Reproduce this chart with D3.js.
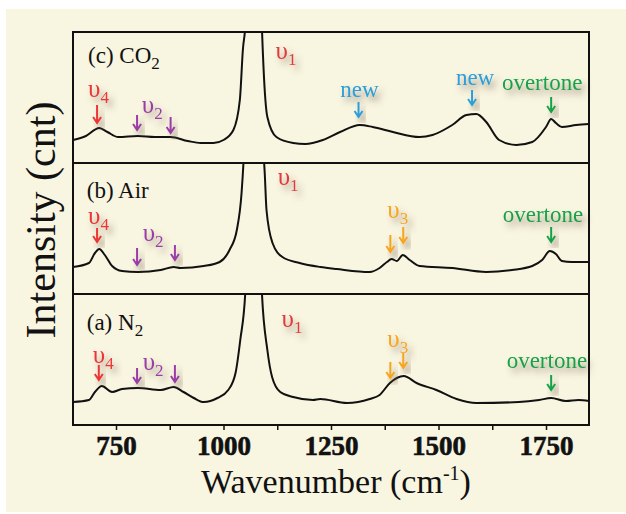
<!DOCTYPE html>
<html>
<head>
<meta charset="utf-8">
<script src="https://cdn.jsdelivr.net/npm/d3@7"></script>
<style>
  body { margin: 0; background: #fff; }
  svg { display: block; font-family: "Liberation Serif", "Times New Roman", serif; }
</style>
</head>
<body>
<svg id="chart" width="626" height="514"></svg>
<script>
// x ticks (wavenumber, cm-1)
const majorTicks = [750, 1000, 1250, 1500, 1750];
const minorTicks = [875, 1125, 1375, 1625];

// (c) CO2 spectrum
const wnCO2 = [650, 680, 711, 730, 755, 801, 840, 877, 917, 947, 977, 1000, 1023, 1038, 1045, 1052, 1062, 1070, 1080, 1089, 1093, 1102, 1123, 1162, 1190, 1231, 1271, 1317, 1347, 1394, 1456, 1486, 1532, 1565, 1588, 1611, 1641, 1681, 1718, 1750, 1762, 1773, 1787, 1820, 1850];
const intCO2 = [23, 27, 35, 31, 26, 27, 26, 26, 22, 20, 20, 23, 33, 63, 113, 145, 320, 600, 320, 140, 96, 46, 26, 20, 19, 23, 31, 38, 36, 31, 26, 28, 38, 48, 49, 41, 23, 18, 21, 36, 44, 40, 36, 38, 39];

// (b) Air spectrum
const wnAir = [650, 687, 701, 711, 724, 741, 764, 801, 854, 884, 900, 954, 991, 1014, 1031, 1042, 1048, 1060, 1070, 1080, 1092, 1096, 1100, 1114, 1137, 1177, 1225, 1263, 1340, 1363, 1380, 1391, 1403, 1417, 1433, 1456, 1532, 1611, 1671, 1718, 1741, 1759, 1773, 1787, 1810, 1850];
const intAir = [27, 31, 41, 45, 39, 28, 23, 22, 24, 27, 26, 28, 32, 44, 64, 101, 145, 320, 600, 320, 150, 120, 84, 51, 37, 31, 27, 25, 22, 26, 32, 35, 33, 39, 34, 28, 26, 22, 24, 28, 34, 43, 40, 33, 32, 32];

// (a) N2 spectrum
const wnN2 = [650, 687, 701, 717, 741, 764, 801, 854, 884, 907, 931, 954, 986, 1011, 1028, 1039, 1051, 1060, 1070, 1080, 1089, 1102, 1113, 1132, 1162, 1208, 1225, 1287, 1340, 1363, 1387, 1419, 1449, 1495, 1542, 1588, 1687, 1734, 1762, 1796, 1826, 1850];
const intN2 = [23, 25, 33, 39, 33, 36, 37, 35, 38, 33, 27, 23, 27, 35, 52, 85, 135, 320, 600, 320, 135, 75, 48, 33, 28, 25, 26, 22, 26, 30, 42, 49, 42, 35, 26, 22, 23, 25, 27, 24, 25, 24];

// labels: [text, subscript, wavenumber, intensity, colour key, anchor]
const annCO2 = [["(c) CO", "2", 685, 100, "k", "start"], ["υ", "1", 1121, 104, "v1", "start"], ["υ", "4", 685, 66, "v4", "start"], ["υ", "2", 810, 50, "v2", "start"], ["new", "", 1316, 66, "new", "middle"], ["new", "", 1585, 78, "new", "middle"], ["overtone", "", 1741, 73, "ot", "middle"]];
const annAir = [["(b) Air", "", 682, 96, "k", "start"], ["υ", "1", 1126, 109, "v1", "start"], ["υ", "4", 685, 70, "v4", "start"], ["υ", "2", 812, 53, "v2", "start"], ["υ", "3", 1381, 76, "v3", "start"], ["overtone", "", 1743, 72, "ot", "middle"]];
const annN2 = [["(a) N", "2", 682, 95, "k", "start"], ["υ", "1", 1135, 98, "v1", "start"], ["υ", "4", 696, 62, "v4", "start"], ["υ", "2", 812, 55, "v2", "start"], ["υ", "3", 1381, 78, "v3", "start"], ["overtone", "", 1752, 57, "ot", "middle"]];

// arrows: [wavenumber, from intensity, to intensity, colour key]
const arrCO2 = [[706, 58, 40, "v4"], [799, 48, 33, "v2"], [877, 46, 30, "v2"], [1314, 61, 46, "new"], [1578, 73, 58, "new"], [1762, 66, 51, "ot"]];
const arrAir = [[706, 66, 52, "v4"], [799, 46, 29, "v2"], [887, 49, 34, "v2"], [1388, 59, 42, "v3"], [1418, 67, 51, "v3"], [1762, 67, 52, "ot"]];
const arrN2 = [[710, 60, 45, "v4"], [799, 57, 42, "v2"], [887, 60, 43, "v2"], [1388, 63, 47, "v3"], [1418, 72, 57, "v3"], [1762, 50, 35, "ot"]];

const colours = { k: "#111", v1: "#e03a3c", v4: "#ee3535", v2: "#9a3ea6", v3: "#f7a51e", new: "#2b9fd9", ot: "#14a24a" };

const svg = d3.select("#chart");
const plotLeft = 73, plotRight = 589, plotTop = 32, plotBottom = 425;
const panelH = (plotBottom - plotTop) / 3;

svg.append("rect").attr("x", 6).attr("y", 9).attr("width", 620).attr("height", 503).attr("fill", "#f8f5e1");

let defs = svg.append("defs");
let f = defs.append("filter").attr("id", "shadow").attr("x", "-40%").attr("y", "-40%").attr("width", "180%").attr("height", "180%");
f.append("feGaussianBlur").attr("in", "SourceAlpha").attr("stdDeviation", 3).attr("result", "blur");
f.append("feOffset").attr("in", "blur").attr("dx", 4).attr("dy", 5).attr("result", "off");
f.append("feFlood").attr("flood-color", "#6e5a45").attr("flood-opacity", 0.6);
f.append("feComposite").attr("in2", "off").attr("operator", "in").attr("result", "sh");
let m = f.append("feMerge");
m.append("feMergeNode").attr("in", "sh");
m.append("feMergeNode").attr("in", "SourceGraphic");

let x = d3.scaleLinear().domain([650, 1850]).range([plotLeft, plotRight]);

let panels = [
  { id: "co2", wn: wnCO2, val: intCO2, ann: annCO2, arr: arrCO2 },
  { id: "air", wn: wnAir, val: intAir, ann: annAir, arr: arrAir },
  { id: "n2", wn: wnN2, val: intN2, ann: annN2, arr: arrN2 }
];

panels.forEach(function(p, i) {
  let y0 = plotTop + i * panelH;
  let y = d3.scaleLinear().domain([0, 131]).range([y0 + panelH, y0]);

  defs.append("clipPath").attr("id", "clip-" + p.id)
    .append("rect").attr("x", plotLeft).attr("y", y0).attr("width", plotRight - plotLeft).attr("height", panelH);

  let line = d3.line()
    .x((d, k) => x(p.wn[k]))
    .y(d => y(d))
    .curve(d3.curveMonotoneX);

  svg.append("path")
    .attr("clip-path", "url(#clip-" + p.id + ")")
    .attr("d", line(p.val))
    .attr("fill", "none")
    .attr("stroke", "#111")
    .attr("stroke-width", 2)
    .attr("stroke-linejoin", "round");

  let g = svg.append("g");

  p.ann.forEach(function(a) {
    let isTag = a[4] === "k";
    let t = g.append("text")
      .attr("x", x(a[2]))
      .attr("y", y(a[3]))
      .attr("text-anchor", a[5])
      .attr("fill", colours[a[4]])
      .attr("filter", isTag ? null : "url(#shadow)")
      .style("font-size", a[0] === "υ" ? "25px" : "23px");
    t.append("tspan").text(a[0]);
    if (a[1]) {
      t.append("tspan").attr("dy", 6).style("font-size", "17px").text(a[1]);
    }
  });

  p.arr.forEach(function(a) {
    let ax = x(a[0]), ya = y(a[1]), yb = y(a[2]);
    g.append("path")
      .attr("d", `M${ax},${ya}L${ax},${yb}M${ax - 4},${yb - 6}L${ax},${yb}L${ax + 4},${yb - 6}`)
      .attr("fill", "none")
      .attr("stroke", colours[a[3]])
      .attr("stroke-width", 2)
      .attr("filter", "url(#shadow)");
  });
});

// frame and panel dividers
svg.append("rect").attr("x", plotLeft).attr("y", plotTop).attr("width", plotRight - plotLeft).attr("height", plotBottom - plotTop)
  .attr("fill", "none").attr("stroke", "#111").attr("stroke-width", 2);
[1, 2].forEach(k => {
  svg.append("line").attr("x1", plotLeft).attr("x2", plotRight)
    .attr("y1", plotTop + k * panelH).attr("y2", plotTop + k * panelH)
    .attr("stroke", "#111").attr("stroke-width", 2);
});

// x axis
let xAxis = svg.append("g").attr("transform", `translate(0,${plotBottom})`)
  .attr("font-family", "'Liberation Serif', 'Times New Roman', serif")
  .call(d3.axisBottom(x).tickValues(majorTicks).tickSize(5).tickPadding(6).tickFormat(d3.format("d")));
xAxis.attr("font-family", "'Liberation Serif', 'Times New Roman', serif").attr("font-size", 27).attr("font-weight", 700);
xAxis.select(".domain").remove();
xAxis.selectAll("line").attr("stroke", "#111").attr("stroke-width", 1.5);
xAxis.selectAll("text")
  .attr("fill", "#111")
  .attr("stroke", "#111")
  .attr("stroke-width", 0.6)
  .style("font-weight", "700");

let minor = svg.append("g").attr("transform", `translate(0,${plotBottom})`)
  .call(d3.axisBottom(x).tickValues(minorTicks).tickSize(5).tickFormat(""));
minor.select(".domain").remove();
minor.selectAll("line").attr("stroke", "#111").attr("stroke-width", 1.5);

// axis titles
let xt = svg.append("text")
  .attr("x", (plotLeft + plotRight) / 2 + 5)
  .attr("y", 493)
  .attr("text-anchor", "middle")
  .attr("fill", "#111")
  .style("font-size", "34px");
xt.append("tspan").text("Wavenumber (cm");
xt.append("tspan").attr("dy", -13).style("font-size", "20px").text("-1");
xt.append("tspan").attr("dy", 13).text(")");

svg.append("text")
  .attr("transform", "translate(55,220) rotate(-90)")
  .attr("text-anchor", "middle")
  .attr("fill", "#111")
  .style("font-size", "42px")
  .text("Intensity (cnt)");
</script>
</body>
</html>
